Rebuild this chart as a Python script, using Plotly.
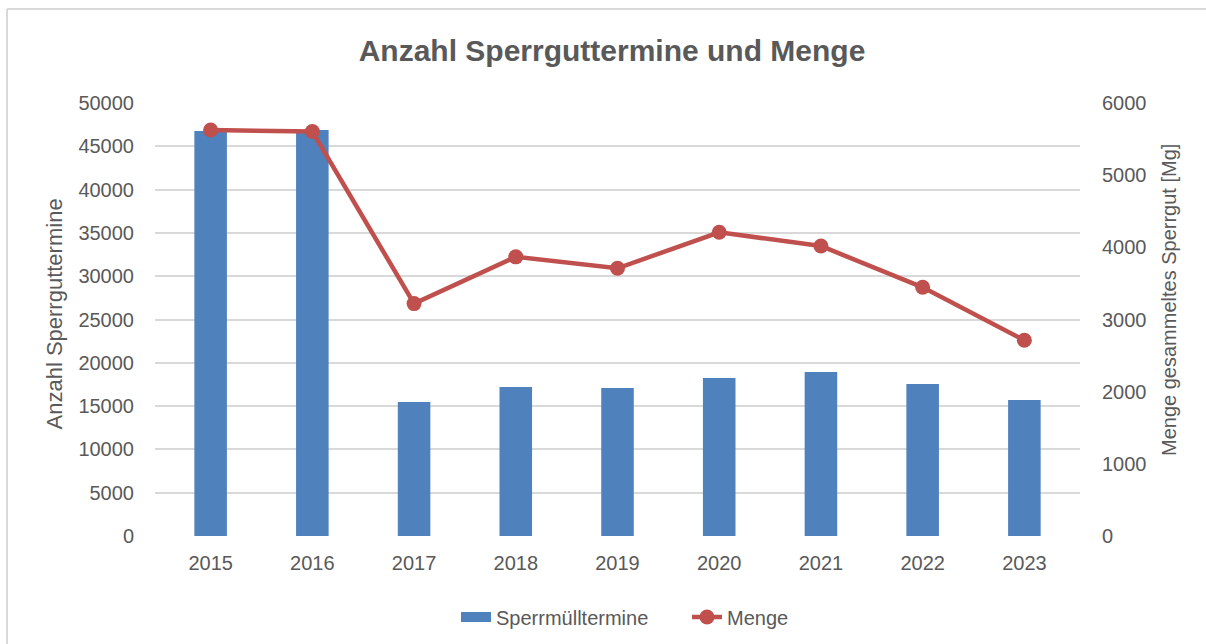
import plotly.graph_objects as go

years = ["2015", "2016", "2017", "2018", "2019", "2020", "2021", "2022", "2023"]
termine = [46770, 46880, 15470, 17200, 17090, 18240, 18940, 17550, 15700]
menge = [5626, 5605, 3220, 3868, 3710, 4208, 4018, 3446, 2712]

left_ticks = list(range(0, 50001, 5000))
right_ticks = list(range(0, 6001, 1000))

FONT = "Liberation Sans, Arial, sans-serif"
TXT = "#595959"
BLUE = "#4F81BD"
RED = "#C0504D"

W, H = 1206, 644
L, T, PW, PH = 155, 103, 925, 433

def px(xabs):
    return (xabs - L) / PW

def py(yabs):
    return (T + PH - yabs) / PH

fig = go.Figure()
fig.add_trace(go.Bar(
    x=years, y=termine, name="Sperrmülltermine",
    marker=dict(color=BLUE, line=dict(width=0)),
    yaxis="y", showlegend=False,
))
# legend entry drawn as a wide block like the original
fig.add_trace(go.Scatter(
    x=[None], y=[None], name="Sperrmülltermine", mode="lines",
    line=dict(color=BLUE, width=12), yaxis="y",
))
fig.add_trace(go.Scatter(
    x=years, y=menge, name="Menge", mode="lines+markers",
    line=dict(color=RED, width=4.5),
    marker=dict(color=RED, size=15),
    yaxis="y2",
))

fig.update_layout(
    width=W, height=H,
    margin=dict(l=L, r=W - L - PW, t=T, b=H - T - PH, autoexpand=False),
    paper_bgcolor="white", plot_bgcolor="white",
    font=dict(family=FONT, color=TXT, size=20),
    title=dict(text="<b>Anzahl Sperrguttermine und Menge</b>",
               x=612 / W, xref="container", xanchor="center",
               y=1 - 50 / H, yref="container", yanchor="middle",
               font=dict(size=30, color=TXT, family=FONT)),
    bargap=0.68,
    showlegend=True,
    legend=dict(orientation="h", x=px(456), xanchor="left", xref="paper",
                y=py(617), yanchor="middle",
                entrywidth=186, entrywidthmode="pixels",
                font=dict(size=20, color=TXT), traceorder="normal"),
    xaxis=dict(showgrid=False, showline=False, automargin=False,
               ticks="outside", ticklen=9, tickcolor="rgba(0,0,0,0)",
               tickfont=dict(size=20, color=TXT)),
    yaxis=dict(range=[0, 50000], tickvals=left_ticks, ticktext=[str(v) for v in left_ticks],
               showgrid=True, gridcolor="#D9D9D9", gridwidth=2, zeroline=False, automargin=False,
               ticks="outside", ticklen=16, tickcolor="rgba(0,0,0,0)",
               tickfont=dict(size=20, color=TXT)),
    yaxis2=dict(range=[0, 6000], tickvals=right_ticks, ticktext=[str(v) for v in right_ticks],
                overlaying="y", side="right", showgrid=False, zeroline=False, automargin=False,
                ticks="outside", ticklen=17, tickcolor="rgba(0,0,0,0)",
                tickfont=dict(size=20, color=TXT)),
    annotations=[
        dict(text="Anzahl Sperrguttermine", xref="paper", yref="paper",
             x=px(54), y=py(314.5), xanchor="center", yanchor="middle",
             textangle=-90, showarrow=False, font=dict(size=22, color=TXT)),
        dict(text="Menge gesammeltes Sperrgut [Mg]", xref="paper", yref="paper",
             x=px(1169), y=py(300), xanchor="center", yanchor="middle",
             textangle=-90, showarrow=False, font=dict(size=20, color=TXT)),
    ],
    shapes=[
        dict(type="line", xref="paper", yref="paper",
             x0=px(7), x1=px(W + 20), y0=py(9), y1=py(9),
             line=dict(color="#D9D9D9", width=2), layer="below"),
        dict(type="line", xref="paper", yref="paper",
             x0=px(7), x1=px(7), y0=py(9), y1=py(H + 20),
             line=dict(color="#D9D9D9", width=2), layer="below"),
    ],
)

fig.write_html("out.html", config={"displayModeBar": False},
               post_script="document.body.style.margin='0';")
